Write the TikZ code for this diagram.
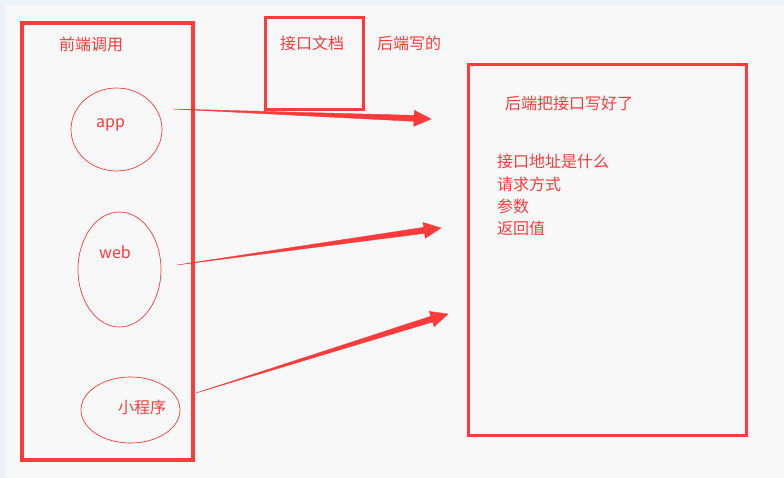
\documentclass[tikz,border=0pt]{standalone}
\usepackage{fontspec}
\setmainfont{Noto Sans CJK SC}
\usetikzlibrary{calc, shapes.geometric}
\definecolor{mdred}{HTML}{FF3A3A}
\definecolor{pagebg}{HTML}{F8F8F8}
\definecolor{edgebg}{HTML}{EEF2F8}
\tikzset{
  frame/.style={draw=mdred, line width=3.5pt, inner sep=0pt},
  oval/.style={ellipse, draw=mdred, line width=0.7pt, inner sep=0pt},
  txt/.style={text=mdred, font=\fontsize{16}{22}\selectfont, inner sep=0pt},
}
% thin-to-thick arrow, as the drawing tool makes them
\newcommand\taperarrow[2]{%
  \coordinate (hb) at ($(#2)!17pt!(#1)$);
  \filldraw[mdred, line width=0.4pt] (#1) -- ($(hb)!3pt!90:(#2)$) -- ($(hb)!8pt!90:(#2)$) -- (#2)
    -- ($(hb)!8pt!-90:(#2)$) -- ($(hb)!3pt!-90:(#2)$) -- cycle;}
\begin{document}
\begin{tikzpicture}[x=1pt, y=-1pt]
  \useasboundingbox (0,0) rectangle (784,478);
  % page
  \fill[edgebg] (0,0) rectangle (784,478);
  \fill[pagebg] (6,5) rectangle (784,478);
  % front end
  \node[frame, minimum width=171pt, minimum height=437pt] (front) at (107.5,241.5) {};
  \node[txt] (frontlbl) at (91,44) {前端调用};
  \node[oval, minimum width=91pt, minimum height=83pt] (app) at (116.5,129.5) {};
  \node[txt] (applbl) at (110.5,125) {app};
  \node[oval, minimum width=83pt, minimum height=115pt] (web) at (119.5,269.5) {};
  \node[txt] (weblbl) at (115,252) {web};
  \node[oval, minimum width=99pt, minimum height=66pt] (mini) at (130.5,410) {};
  \node[txt] (minilbl) at (142,407) {小程序};
  % interface doc
  \node[frame, minimum width=98pt, minimum height=92pt] (doc) at (314.5,63.5) {};
  \node[txt] (doclbl) at (312,43) {接口文档};
  \node[txt] (doclbl2) at (409,43) {后端写的};
  % back end
  \node[frame, line width=3pt, minimum width=278pt, minimum height=370pt] (back) at (607,250) {};
  \node[txt] (backlbl) at (569,103) {后端把接口写好了};
  \node[txt, anchor=west] (item1) at (497,161) {接口地址是什么};
  \node[txt, anchor=west] (item2) at (497,184) {请求方式};
  \node[txt, anchor=west] (item3) at (497,206) {参数};
  \node[txt, anchor=west] (item4) at (497,228) {返回值};
  % arrows
  \coordinate (appout) at (173,109);
  \coordinate (apptip) at (431,119);
  \coordinate (webout) at (177,265);
  \coordinate (webtip) at (441,228);
  \coordinate (miniout) at (196,393);
  \coordinate (minitip) at (448,314);
  \taperarrow{appout}{apptip}
  \taperarrow{webout}{webtip}
  \taperarrow{miniout}{minitip}
\end{tikzpicture}
\end{document}
